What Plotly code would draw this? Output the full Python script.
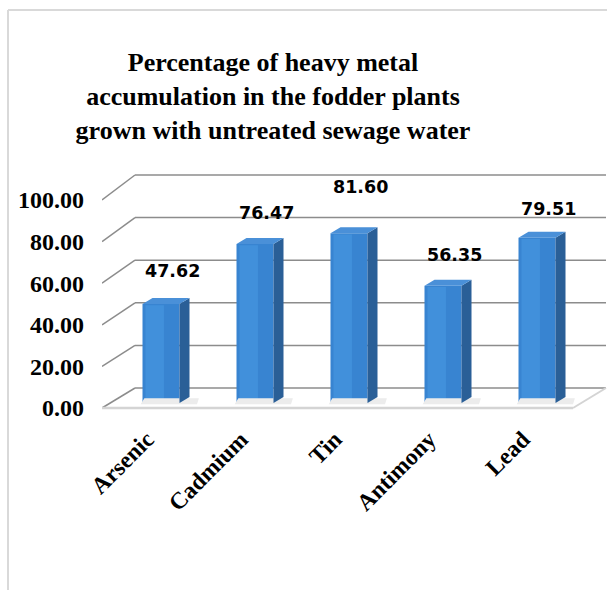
import plotly.graph_objects as go

# ---- data ----
categories = ["Arsenic", "Cadmium", "Tin", "Antimony", "Lead"]
values = [47.62, 76.47, 81.60, 56.35, 79.51]
y_ticks = [0, 20, 40, 60, 80, 100]
title_text = ("Percentage of heavy metal<br>accumulation in the fodder plants"
              "<br>grown with untreated sewage water")

# ---- style / geometry (pixels -> axis units) ----
W, H = 607, 590
ML, MR, MT, MB = 102, 0, 158, 172
PX_PER_CAT = 94.0
CAT0_PX = 161.0
PX_PER_UNIT = 2.08
ZERO_PX = 408.0

def xpx(px):
    return (px - CAT0_PX) / PX_PER_CAT

def ypx(py):
    return (ZERO_PX - py) / PX_PER_UNIT

x_range = [xpx(ML), xpx(W - MR)]
y_range = [ypx(H - MB), ypx(MT)]

BASE = 2.4            # bars sit a little behind the front edge of the floor
BAR_W = 37 / PX_PER_CAT
DX = 10 / PX_PER_CAT  # depth offset of the 3D faces
DY = 6 / PX_PER_UNIT
WALL_DX = 33 / PX_PER_CAT
def back_y(v):
    return 9.62 + 1.024 * v

GRID = "#8c8c8c"
FRONT = "#3884d1"
HILITE = "#4190db"
SIDE = "#2a5f97"
TOP = "#4a90d8"

pos = list(range(len(categories)))

fig = go.Figure()

# ---- 3D wall gridlines and floor ----
shapes = []
x_front = x_range[0]
x_back = x_front + WALL_DX
x_end = xpx(606)
for v in y_ticks:
    shapes.append(dict(type="line", xref="x", yref="y", x0=x_front, y0=v,
                       x1=x_back, y1=back_y(v), line=dict(color=GRID, width=1.5),
                       layer="below"))
    shapes.append(dict(type="line", xref="x", yref="y", x0=x_back, y0=back_y(v),
                       x1=x_end, y1=back_y(v), line=dict(color=GRID, width=1.5),
                       layer="below"))
# floor front edge
x_floor_end = xpx(573)
shapes.append(dict(type="line", xref="x", yref="y", x0=x_front, y0=0,
                   x1=x_floor_end, y1=0, line=dict(color="#d4d4d4", width=2.5),
                   layer="below"))
shapes.append(dict(type="line", xref="x", yref="y", x0=x_floor_end, y0=0,
                   x1=x_end, y1=back_y(0), line=dict(color="#d4d4d4", width=2),
                   layer="below"))

# outer chart border (left and top)
def paper_x(px):
    return (px - ML) / (W - ML - MR)

def paper_y(py):
    return ((H - MB) - py) / (H - MT - MB)

shapes.append(dict(type="line", xref="paper", yref="paper",
                   x0=paper_x(8), y0=paper_y(10), x1=paper_x(8), y1=paper_y(592),
                   line=dict(color="#d9d9d9", width=2)))
shapes.append(dict(type="line", xref="paper", yref="paper",
                   x0=paper_x(8), y0=paper_y(10), x1=paper_x(610), y1=paper_y(10),
                   line=dict(color="#d9d9d9", width=2)))

# ---- bar shadows ----
sx, sy = [], []
for i, v in zip(pos, values):
    x0 = i - BAR_W / 2
    x1 = i + BAR_W / 2
    sx += [x0 - 0.02, x1 + DX + 0.08, x1 + DX + 0.1, x0 + 0.02, None]
    sy += [BASE - 0.6, BASE - 0.6, BASE + DY * 0.8, BASE + DY * 0.8, None]
fig.add_trace(go.Scatter(x=sx, y=sy, fill="toself", mode="lines",
                         line=dict(width=0), fillcolor="#ececec",
                         hoverinfo="skip", showlegend=False))

# ---- front faces ----
fig.add_trace(go.Bar(x=pos, y=values, base=BASE, width=BAR_W,
                     marker=dict(color=FRONT, line=dict(width=0)),
                     showlegend=False, hoverinfo="skip"))
fig.add_trace(go.Bar(x=pos, y=[v - 0.6 for v in values], base=BASE,
                     width=BAR_W * 0.5, offset=-BAR_W * 0.42,
                     marker=dict(color=HILITE, line=dict(width=0)),
                     showlegend=False, hoverinfo="skip"))

# ---- side and top faces ----
side_x, side_y, top_x, top_y = [], [], [], []
for i, v in zip(pos, values):
    x0 = i - BAR_W / 2
    x1 = i + BAR_W / 2
    t = BASE + v
    side_x += [x1, x1, x1 + DX, x1 + DX, x1, None]
    side_y += [BASE, t, t + DY, BASE + DY, BASE, None]
    top_x += [x0, x1, x1 + DX, x0 + DX, x0, None]
    top_y += [t, t, t + DY, t + DY, t, None]
fig.add_trace(go.Scatter(x=side_x, y=side_y, fill="toself", mode="lines",
                         line=dict(width=0), fillcolor=SIDE,
                         hoverinfo="skip", showlegend=False))
fig.add_trace(go.Scatter(x=top_x, y=top_y, fill="toself", mode="lines",
                         line=dict(width=0), fillcolor=TOP,
                         hoverinfo="skip", showlegend=False))

# ---- data labels ----
label_lift = [33, 31, 46, 31, 29]  # pixel lift above bar top
annotations = []
for i, v, lift in zip(pos, values, label_lift):
    annotations.append(dict(x=i, y=BASE + v, xref="x", yref="y",
                            text=f"{v:.2f}", showarrow=False,
                            xshift=11, yshift=lift,
                            font=dict(family="DejaVu Sans", size=17.5,
                                      color="#000000", weight="bold")))

fig.update_layout(
    width=W, height=H,
    margin=dict(l=ML, r=MR, t=MT, b=MB, autoexpand=False),
    paper_bgcolor="white", plot_bgcolor="white",
    title=dict(text=title_text, xref="container", yref="container",
               x=273 / W, y=1 - 71 / H, xanchor="center", yanchor="middle",
               font=dict(family="Liberation Serif", size=26, color="black",
                         weight="bold")),
    xaxis=dict(range=x_range, tickmode="array", tickvals=pos,
               ticktext=categories, tickangle=-45, showgrid=False,
               zeroline=False, showline=False, ticks="",
               ticklabelstandoff=2, ticklabelshift=-14,
               tickfont=dict(family="Liberation Serif", size=23.5,
                             color="black", weight="bold")),
    yaxis=dict(range=y_range, tickmode="array", tickvals=y_ticks,
               tickformat=".2f", showgrid=False, zeroline=False,
               showline=False, ticks="", ticklabelstandoff=17,
               tickfont=dict(family="Liberation Serif", size=24,
                             color="black", weight="bold")),
    shapes=shapes,
    annotations=annotations,
    barmode="overlay",
    showlegend=False,
)

fig.write_html("out.html")
